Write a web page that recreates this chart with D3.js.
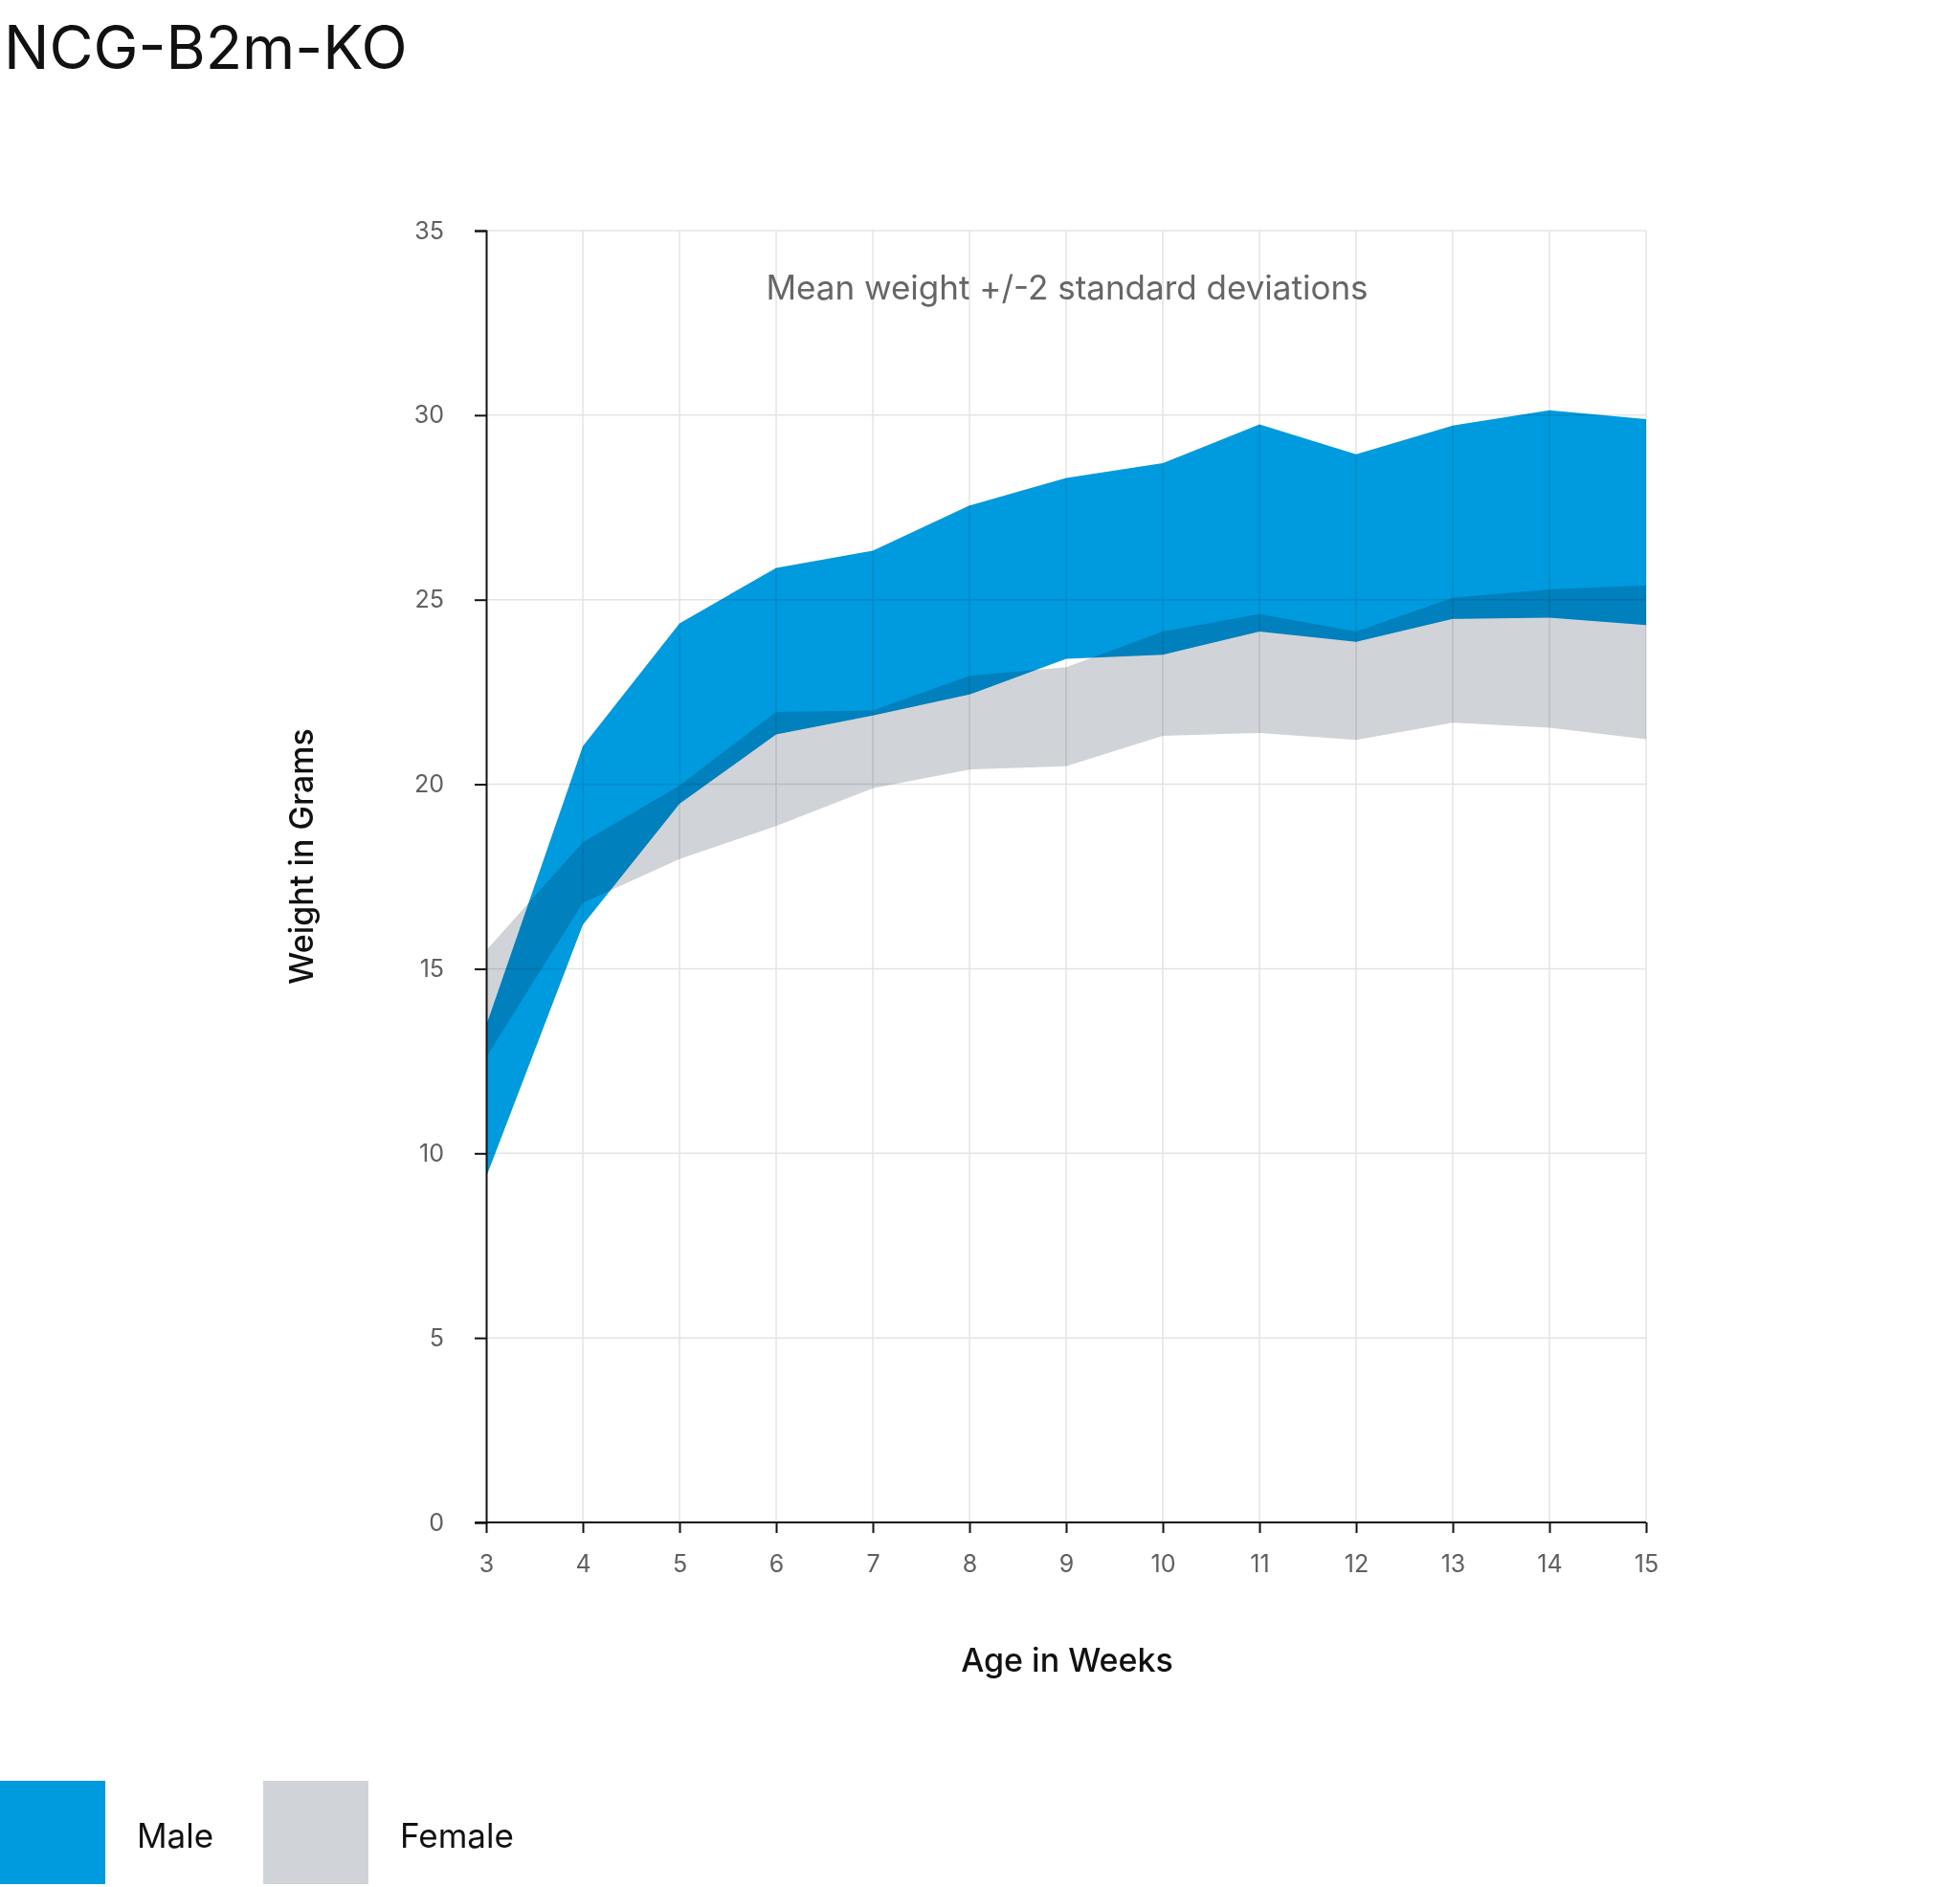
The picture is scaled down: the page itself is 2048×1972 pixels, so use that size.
<!DOCTYPE html>
<html>
<head>
<meta charset="utf-8">
<script src="https://cdn.jsdelivr.net/npm/d3@7"></script>
<style>
  body { margin: 0; background: #fff; }
  text { font-family: Inter, "Noto Sans", sans-serif; }
  .band { mix-blend-mode: multiply; }
</style>
</head>
<body>
<div id="chart"></div>
<script>
// weeks on the x axis
var weeks = [3, 4, 5, 6, 7, 8, 9, 10, 11, 12, 13, 14, 15];

// mean +/- 2 sd (grams)
var maleUpper   = [13.46, 21.03, 24.36, 25.86, 26.33, 27.55, 28.30, 28.70, 29.75, 28.94, 29.72, 30.13, 29.89];
var maleLower   = [9.36, 16.19, 19.47, 21.35, 21.86, 22.43, 23.40, 23.51, 24.14, 23.86, 24.48, 24.51, 24.31];
var femaleUpper = [15.50, 18.43, 19.96, 21.96, 22.00, 22.94, 23.17, 24.14, 24.61, 24.14, 25.05, 25.28, 25.39];
var femaleLower = [12.60, 16.79, 17.97, 18.87, 19.89, 20.40, 20.49, 21.31, 21.39, 21.20, 21.67, 21.53, 21.22];

var yTicks = [0, 5, 10, 15, 20, 25, 30, 35];

var legendItems = ["Male", "Female"];
var colors = { Male: "#009ade", Female: "#d0d4d8" };

var width = 2048;
var height = 1972;
var margin = { left: 508, right: 328, top: 241, bottom: 381 };

var svg = d3.select("#chart")
  .append("svg")
  .attr("width", width)
  .attr("height", height)
  .style("background", "#fff");

var x = d3.scaleLinear()
  .domain([3, 15])
  .range([margin.left, width - margin.right]);

var y = d3.scaleLinear()
  .domain([0, 35])
  .range([height - margin.bottom, margin.top]);

// grid
var grid = svg.append("g");
grid.selectAll(".hgrid")
  .data(yTicks.filter(d => d > 0))
  .enter()
  .append("line")
  .attr("x1", x(3)).attr("x2", x(15))
  .attr("y1", d => y(d)).attr("y2", d => y(d))
  .attr("stroke", "#e4e4e4")
  .attr("stroke-width", 1.5);
grid.selectAll(".vgrid")
  .data(weeks.slice(1))
  .enter()
  .append("line")
  .attr("x1", d => x(d)).attr("x2", d => x(d))
  .attr("y1", y(0)).attr("y2", y(35))
  .attr("stroke", "#e4e4e4")
  .attr("stroke-width", 1.5);

// bands
function band(lower, upper) {
  var rows = weeks.map((w, i) => ({ w: w, lo: lower[i], hi: upper[i] }));
  return d3.area()
    .x(d => x(d.w))
    .y0(d => y(d.lo))
    .y1(d => y(d.hi))(rows);
}

svg.append("path")
  .attr("class", "band")
  .attr("d", band(femaleLower, femaleUpper))
  .attr("fill", colors.Female);

svg.append("path")
  .attr("class", "band")
  .attr("d", band(maleLower, maleUpper))
  .attr("fill", colors.Male);

// axes
var yAxis = svg.append("g")
  .attr("transform", "translate(" + x(3) + ",0)")
  .call(d3.axisLeft(y).tickValues(yTicks).tickSize(12).tickPadding(32));
var xAxis = svg.append("g")
  .attr("transform", "translate(0," + y(0) + ")")
  .call(d3.axisBottom(x).tickValues(weeks).tickSize(11).tickPadding(23));

[yAxis, xAxis].forEach(function(a) {
  a.attr("font-size", null).attr("font-family", null);
  a.select(".domain").attr("stroke", "#111").attr("stroke-width", 2);
  a.selectAll(".tick line").attr("stroke", "#111").attr("stroke-width", 2);
  a.selectAll(".tick text")
    .attr("fill", "#606060")
    .style("font-size", "25px")
    .style("font-family", "Inter, sans-serif");
});
// x axis line sticks out a little to the left
xAxis.select(".domain").attr("d", "M" + (x(3) - 11) + ",0H" + x(15));

// texts
svg.append("text")
  .attr("x", 4)
  .attr("y", 72)
  .style("font-size", "63px")
  .attr("fill", "#111")
  .text("NCG-B2m-KO");

svg.append("text")
  .attr("x", (x(3) + x(15)) / 2 + 1)
  .attr("y", 313)
  .attr("text-anchor", "middle")
  .attr("fill", "#666")
  .style("font-size", "35px")
  .text("Mean weight +/-2 standard deviations");

svg.append("text")
  .attr("x", (x(3) + x(15)) / 2 + 1)
  .attr("y", 1747)
  .attr("text-anchor", "middle")
  .attr("fill", "#111")
  .style("font-size", "34px")
  .style("font-weight", 500)
  .text("Age in Weeks");

svg.append("text")
  .attr("transform", "translate(327," + 895 + ") rotate(-90)")
  .attr("text-anchor", "middle")
  .attr("fill", "#111")
  .style("font-size", "34px")
  .style("font-weight", 500)
  .text("Weight in Grams");

// legend
var legend = svg.append("g")
  .selectAll("g")
  .data(legendItems)
  .enter()
  .append("g")
  .attr("transform", (d, i) => "translate(" + (i * 275) + ",1861)");
legend.append("rect")
  .attr("width", 110)
  .attr("height", 108)
  .attr("fill", d => colors[d]);
legend.append("text")
  .attr("x", 143)
  .attr("y", 1931 - 1861)
  .attr("fill", "#111")
  .style("font-size", "35px")
  .text(d => d);
</script>
</body>
</html>
